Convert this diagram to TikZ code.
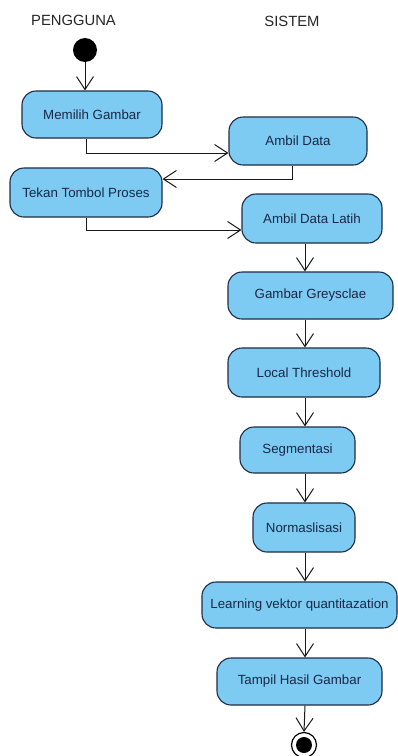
\documentclass[tikz,border=0pt]{standalone}
\usepackage{fontspec}
\setmainfont{Liberation Sans}
\usetikzlibrary{arrows.meta}
\definecolor{actfill}{RGB}{125,202,242}
\definecolor{actline}{RGB}{30,45,70}
\definecolor{acttext}{RGB}{25,40,70}
\begin{document}
\begin{tikzpicture}[x=1pt,y=-1pt,
  act/.style={draw=actline,line width=1.1pt,fill=actfill,rounded corners=14pt,
    inner sep=0pt,text=acttext,font=\fontsize{13.3}{16}\selectfont},
  lane/.style={font=\fontsize{14.8}{18}\selectfont,text=black!85},
  flow/.style={draw=black!90,line width=1pt,-{Straight Barb[length=13pt,width=17pt,line width=1pt]}},
  dot/.style={circle,fill=black,inner sep=0pt,minimum size=#1}]
\useasboundingbox (0,0) rectangle (398,756);
\fill[white] (0,0) rectangle (398,756);
\node[lane] (pengguna) at (73.5,20) {PENGGUNA};
\node[lane] (sistem) at (292,21) {SISTEM};
\node[dot=24pt] (start) at (85,50) {};
\node[act,minimum width=140pt,minimum height=47pt] (memilih) at (92,114.5) {Memilih Gambar};
\node[act,minimum width=138pt,minimum height=48pt] (ambil) at (298,141) {Ambil Data};
\node[act,minimum width=152pt,minimum height=49pt] (tekan) at (86,192.5) {Tekan Tombol Proses};
\node[act,minimum width=140pt,minimum height=49pt] (latih) at (312,218.5) {Ambil Data Latih};
\node[act,minimum width=165pt,minimum height=47pt] (grey) at (310.5,295.5) {Gambar Greysclae};
\node[act,minimum width=152pt,minimum height=49pt] (local) at (304,372.5) {Local Threshold};
\node[act,minimum width=115pt,minimum height=46pt] (segm) at (297.5,450) {Segmentasi};
\node[act,minimum width=102pt,minimum height=49pt] (norm) at (304,527.5) {Normaslisasi};
\node[act,minimum width=195pt,minimum height=46pt] (learn) at (299.5,605) {Learning vektor quantitazation};
\node[act,minimum width=165pt,minimum height=47pt] (tampil) at (299.5,681.5) {Tampil Hasil Gambar};
\node[circle,draw=black,line width=1.2pt,fill=white,minimum size=25pt,inner sep=0pt] (end) at (304,745) {};
\node[dot=16pt] (endin) at (end.center) {};
% connectors
\draw[flow] (start) -- (start |- memilih.north);
\coordinate (c1) at (86,153);
\draw[flow] (c1 |- memilih.south) -- (c1) -- (c1 -| ambil.west);
\coordinate (c2) at (292,179);
\draw[flow] (c2 |- ambil.south) -- (c2) -- (c2 -| tekan.east);
\coordinate (c3) at (86,230);
\draw[flow] (c3 |- tekan.south) -- (c3) -- (c3 -| latih.west);
\coordinate (v) at (305,0);
\draw[flow] (v |- latih.south) -- (v |- grey.north);
\draw[flow] (v |- grey.south) -- (v |- local.north);
\draw[flow] (v |- local.south) -- (v |- segm.north);
\draw[flow] (v |- segm.south) -- (v |- norm.north);
\draw[flow] (v |- norm.south) -- (v |- learn.north);
\draw[flow] (v |- learn.south) -- (v |- tampil.north);
\draw[flow] (v |- tampil.south) -- (end.north);
\end{tikzpicture}
\end{document}
